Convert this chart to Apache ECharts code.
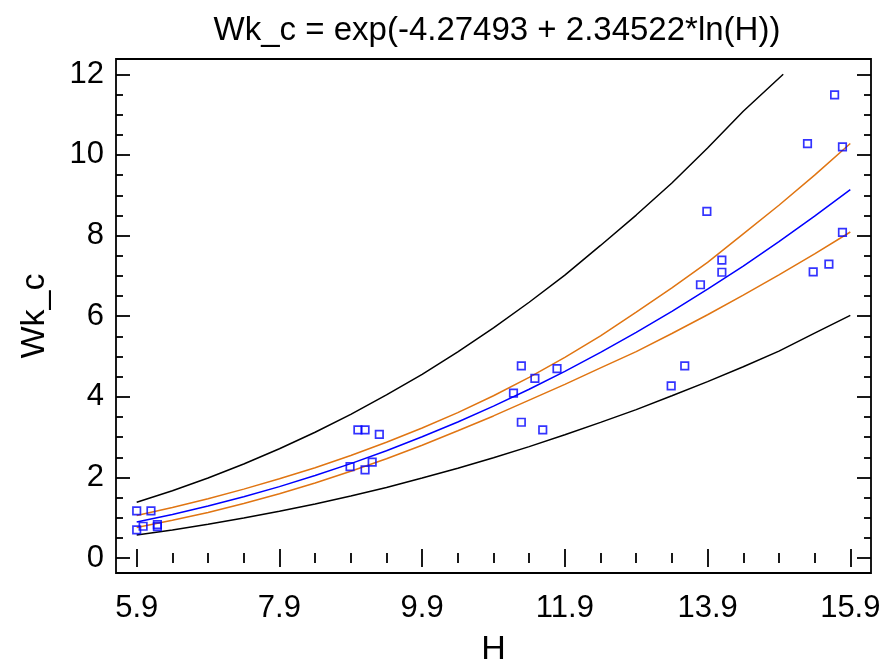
<!DOCTYPE html>
<html>
<head>
<meta charset="utf-8">
<script src="https://cdn.jsdelivr.net/npm/echarts@6/dist/echarts.min.js"></script>
<style>html,body{margin:0;padding:0;background:#fff}#c{width:885px;height:665px}</style>
</head>
<body>
<div id="c"></div>
<script>
// ---- data ----
const titleText = 'Wk_c = exp(-4.27493 + 2.34522*ln(H))';
const xName = 'H';
const yName = 'Wk_c';

const xMajorTicks = [5.9, 7.9, 9.9, 11.9, 13.9, 15.9];
const xMinorTicks = [6.4, 6.9, 7.4, 8.4, 8.9, 9.4, 10.4, 10.9, 11.4, 12.4, 12.9, 13.4, 14.4, 14.9, 15.4];
const yMajorTicks = [0, 2, 4, 6, 8, 10, 12];
const yMinorTicks = [0.5, 1, 1.5, 2.5, 3, 3.5, 4.5, 5, 5.5, 6.5, 7, 7.5, 8.5, 9, 9.5, 10.5, 11, 11.5];

// observed points
const pointsH  = [5.90, 6.10, 5.90, 5.99, 6.19, 6.19,
                  9.00, 9.10, 9.30, 8.89, 9.10, 9.20,
                  11.29, 11.48, 11.79, 11.18, 11.29, 11.59,
                  13.89, 14.10, 14.10, 13.80, 13.58, 13.39,
                  15.68, 15.30, 15.79, 15.79, 15.60, 15.38];
const pointsWk = [1.17, 1.17, 0.70, 0.79, 0.83, 0.78,
                  3.18, 3.18, 3.07, 2.27, 2.19, 2.38,
                  4.77, 4.46, 4.70, 4.09, 3.37, 3.18,
                  8.60, 7.39, 7.09, 6.78, 4.77, 4.27,
                  11.49, 10.28, 10.20, 8.08, 7.29, 7.10];

// curves (sampled along H)
const curveH = [5.9, 6.4, 6.9, 7.4, 7.9, 8.4, 8.9, 9.4, 9.9, 10.4, 10.9, 11.4, 11.9, 12.4, 12.9, 13.4, 13.9, 14.4, 14.9, 15.4, 15.9];
const fitWk      = [0.894, 1.082, 1.290, 1.521, 1.772, 2.047, 2.344, 2.664, 3.009, 3.377, 3.771, 4.189, 4.633, 5.102, 5.598, 6.121, 6.670, 7.245, 7.850, 8.481, 9.140];
const confUpper  = [1.055, 1.255, 1.471, 1.711, 1.967, 2.241, 2.543, 2.872, 3.226, 3.607, 4.027, 4.482, 4.980, 5.510, 6.102, 6.702, 7.337, 8.042, 8.753, 9.499, 10.283];
const confLower  = [0.760, 0.936, 1.129, 1.354, 1.595, 1.863, 2.156, 2.464, 2.798, 3.158, 3.526, 3.917, 4.309, 4.719, 5.122, 5.570, 6.036, 6.521, 7.026, 7.548, 8.089];
const predLower  = [0.572, 0.698, 0.839, 0.992, 1.161, 1.343, 1.542, 1.753, 1.986, 2.229, 2.489, 2.765, 3.058, 3.367, 3.683, 4.028, 4.376, 4.745, 5.134, 5.580, 6.020];
const predUpperH = [5.9, 6.4, 6.9, 7.4, 7.9, 8.4, 8.9, 9.4, 9.9, 10.4, 10.9, 11.4, 11.9, 12.4, 12.9, 13.4, 13.9, 14.4, 14.96];
const predUpper  = [1.386, 1.672, 1.987, 2.335, 2.711, 3.122, 3.563, 4.049, 4.559, 5.116, 5.713, 6.346, 7.019, 7.755, 8.509, 9.304, 10.172, 11.085, 12.0];

// ---- chart ----
const FONT = 'Liberation Sans, Arial, sans-serif';
const X_MIN = 5.61, X_MAX = 16.19, Y_MIN = -0.37, Y_MAX = 12.38;
const pair = (xs, ys) => xs.map((x, i) => [x, ys[i]]);
const tickLine = {color: '#000', width: 1.8};

function xAx(pos, ticks, len, withLabel) {
  return {
    type: 'value', min: X_MIN, max: X_MAX, position: pos,
    axisLine: {show: false}, splitLine: {show: false},
    axisTick: {show: true, inside: true, length: len, customValues: ticks, lineStyle: tickLine},
    axisLabel: withLabel ? {show: true, customValues: ticks, fontSize: 31, color: '#000', fontFamily: FONT, margin: 20} : {show: false},
    name: withLabel ? xName : '', nameLocation: 'middle', nameGap: 60,
    nameTextStyle: {fontSize: 34, color: '#000', fontFamily: FONT}
  };
}
function yAx(pos, ticks, len, withLabel) {
  return {
    type: 'value', min: Y_MIN, max: Y_MAX, position: pos,
    axisLine: {show: false}, splitLine: {show: false},
    axisTick: {show: true, inside: true, length: len, customValues: ticks, lineStyle: tickLine},
    axisLabel: withLabel ? {show: true, customValues: ticks, fontSize: 31, color: '#000', fontFamily: FONT, margin: 12} : {show: false},
    name: withLabel ? yName : '', nameLocation: 'middle', nameGap: 64, nameRotate: 90,
    nameTextStyle: {fontSize: 34, color: '#000', fontFamily: FONT}
  };
}

const chart = echarts.init(document.getElementById('c'), null, {renderer: 'canvas'});
chart.setOption({
  animation: false,
  backgroundColor: '#fff',
  title: {
    text: titleText, left: 492, top: 9, textAlign: 'center',
    textStyle: {fontSize: 33, fontWeight: 'normal', color: '#000', fontFamily: FONT}
  },
  grid: {left: 116, right: 14, top: 59, bottom: 92, show: true, borderColor: '#000', borderWidth: 1.8,
         backgroundColor: '#fff', containLabel: false, outerBoundsMode: 'none'},
  xAxis: [
    xAx('bottom', xMajorTicks, 9, true),
    xAx('bottom', xMinorTicks, 5, false),
    xAx('top', xMajorTicks, 9, false),
    xAx('top', xMinorTicks, 5, false)
  ],
  yAxis: [
    yAx('left', yMajorTicks, 14, true),
    yAx('left', yMinorTicks, 7, false),
    yAx('right', yMajorTicks, 14, false),
    yAx('right', yMinorTicks, 7, false)
  ],
  series: [
    {type: 'line', data: pair(predUpperH, predUpper), showSymbol: false, lineStyle: {color: '#000', width: 1.5}, z: 2},
    {type: 'line', data: pair(curveH, predLower), showSymbol: false, lineStyle: {color: '#000', width: 1.5}, z: 2},
    {type: 'line', data: pair(curveH, confUpper), showSymbol: false, lineStyle: {color: '#e07512', width: 1.5}, z: 3},
    {type: 'line', data: pair(curveH, confLower), showSymbol: false, lineStyle: {color: '#e07512', width: 1.5}, z: 3},
    {type: 'line', data: pair(curveH, fitWk), showSymbol: false, lineStyle: {color: '#0000ff', width: 1.5}, z: 4},
    {type: 'scatter', data: pair(pointsH, pointsWk), symbol: 'rect', symbolSize: 7.5,
     itemStyle: {color: 'rgba(255,255,255,0)', borderColor: '#0000ff', borderWidth: 1.7}, z: 5}
  ]
});
</script>
</body>
</html>
